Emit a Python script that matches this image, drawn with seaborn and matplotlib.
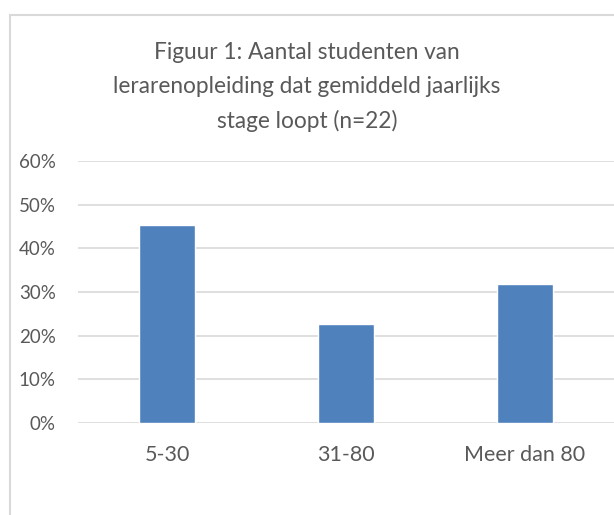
import matplotlib
matplotlib.use("Agg")
import matplotlib.pyplot as plt
import seaborn as sns
import pandas as pd
from matplotlib.patches import Rectangle
from matplotlib.ticker import PercentFormatter

categories = ["5-30", "31-80", "Meer dan 80"]
values = [0.4545, 0.2273, 0.3182]
title = "Figuur 1: Aantal studenten van\nlerarenopleiding dat gemiddeld jaarlijks\nstage loopt (n=22)"
yticks = [0, 0.1, 0.2, 0.3, 0.4, 0.5, 0.6]

sns.set_theme(style="white")
plt.rcParams['font.family'] = ['Lato', 'DejaVu Sans']
text_color = "#595959"
grid_color = "#d9d9d9"

fig = plt.figure(figsize=(6.14, 5.15), dpi=100)
ax = fig.add_axes([78/614, 1-423/515, 1-78/614, (423-161)/515])

df = pd.DataFrame({"cat": categories, "val": values})
sns.barplot(data=df, x="cat", y="val", color="#4F81BD", saturation=1, width=0.313, ax=ax)

ax.set_ylim(0, 0.6)
ax.set_yticks(yticks)
ax.yaxis.set_major_formatter(PercentFormatter(1.0, decimals=0))
ax.set_xlim(-0.5, 2.5)
ax.set_xlabel("")
ax.set_ylabel("")
ax.grid(axis="y", color=grid_color, linewidth=1.2)
ax.set_axisbelow(True)
for s in ax.spines.values():
    s.set_visible(False)
ax.tick_params(axis="y", length=0, pad=16, labelsize=13.5, labelcolor=text_color)
ax.tick_params(axis="x", length=0, pad=16, labelsize=15.5, labelcolor=text_color)

fig.text(0.5, 1-87/515, title, ha="center", va="center", fontsize=16.3,
         color=text_color, linespacing=1.72)

border = Rectangle((10/614, -0.1), 1.2, 0.1 + 1 - 15/515, transform=fig.transFigure,
                   fill=False, edgecolor=grid_color, linewidth=1.5, zorder=10)
fig.patches.append(border)

fig.savefig("out.png", dpi=100)
